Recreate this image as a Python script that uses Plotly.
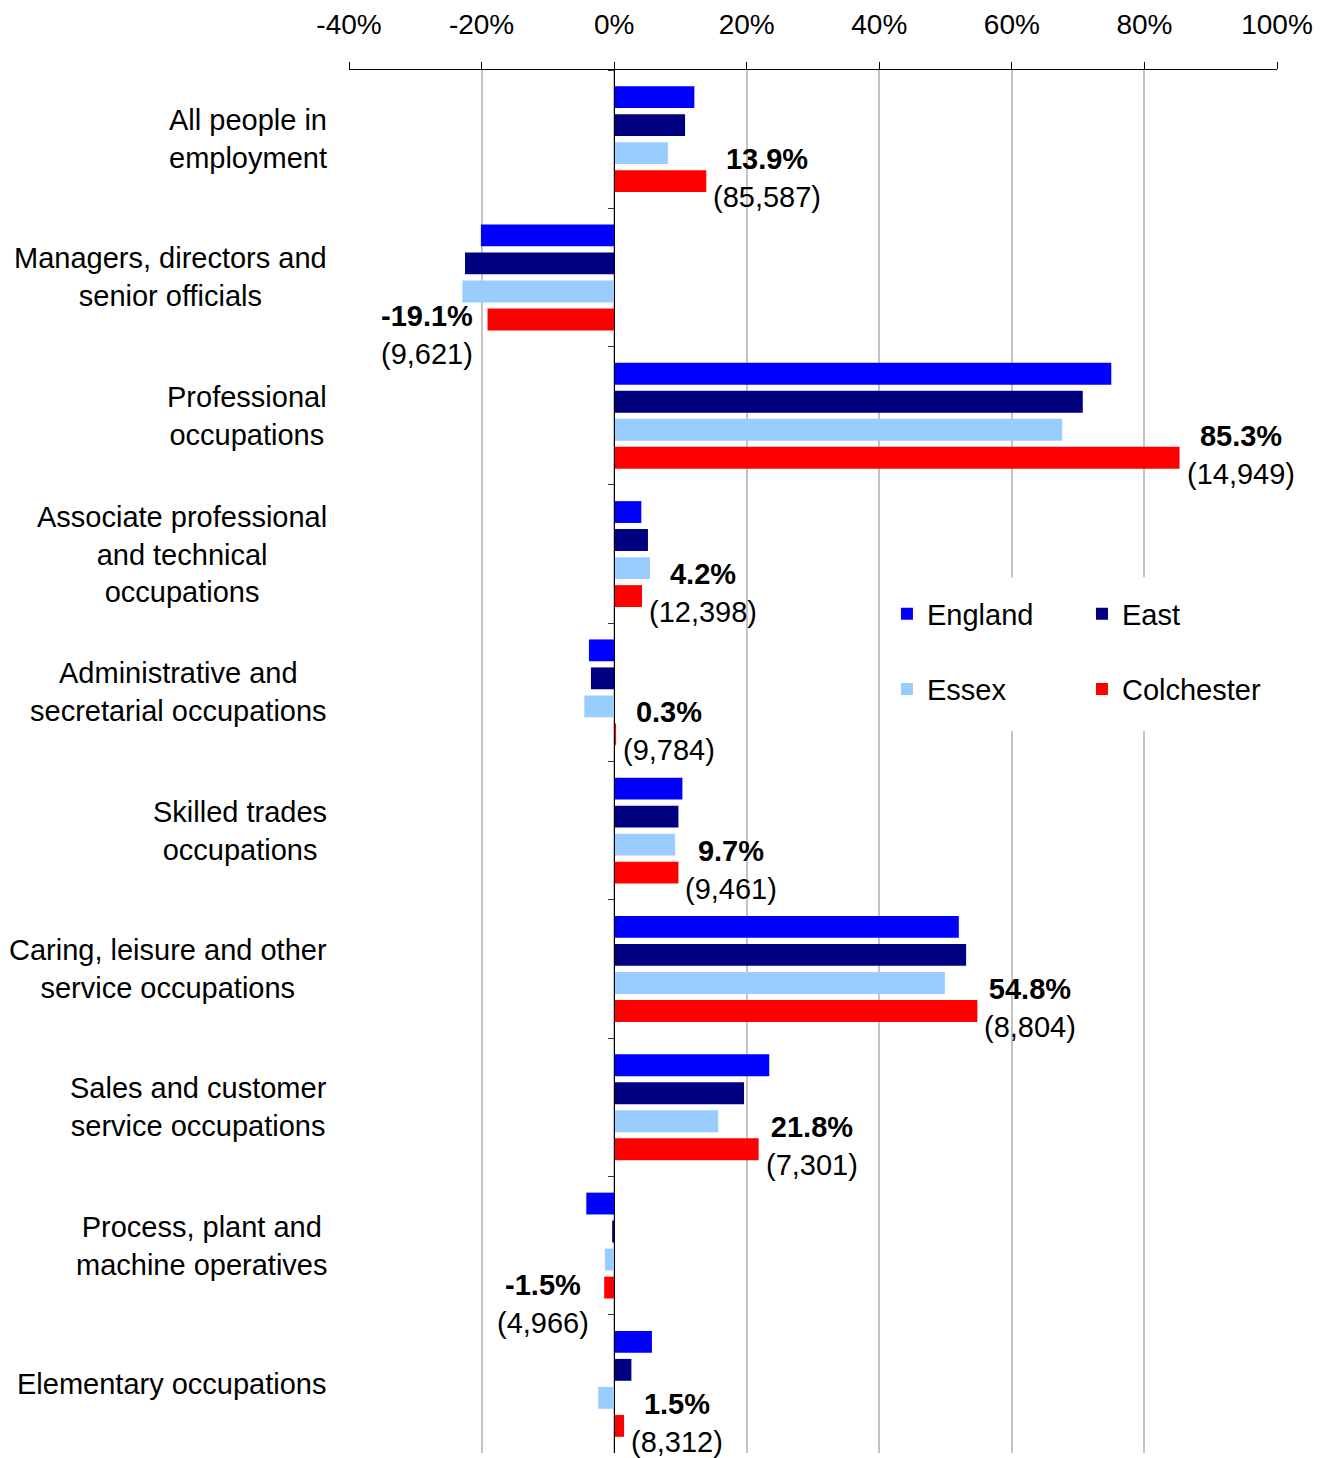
import plotly.graph_objects as go

# ---------------- data ----------------
categories = [
    "All people in employment",
    "Managers, directors and senior officials",
    "Professional occupations",
    "Associate professional and technical occupations",
    "Administrative and secretarial occupations",
    "Skilled trades occupations",
    "Caring, leisure and other service occupations",
    "Sales and customer service occupations",
    "Process, plant and machine operatives",
    "Elementary occupations",
]
category_labels = [
    "All people in<br>employment",
    "Managers, directors and<br>senior officials",
    "Professional<br>occupations",
    "Associate professional<br>and technical<br>occupations",
    "Administrative and<br>secretarial occupations",
    "Skilled trades<br>occupations",
    "Caring, leisure and other<br>service occupations",
    "Sales and customer<br>service occupations",
    "Process, plant and<br>machine operatives",
    "Elementary occupations",
]
england = [12.1, -20.1, 75.0, 4.1, -3.8, 10.3, 52.0, 23.4, -4.2, 5.7]
east = [10.7, -22.5, 70.7, 5.1, -3.5, 9.7, 53.1, 19.6, -0.3, 2.6]
essex = [8.1, -22.9, 67.6, 5.4, -4.5, 9.2, 49.9, 15.7, -1.4, -2.4]
colchester = [13.9, -19.1, 85.3, 4.2, 0.3, 9.7, 54.8, 21.8, -1.5, 1.5]
colchester_counts = [85587, 9621, 14949, 12398, 9784, 9461, 8804, 7301, 4966, 8312]

x_tickvals = [-40, -20, 0, 20, 40, 60, 80, 100]
x_ticktext = ["-40%", "-20%", "0%", "20%", "40%", "60%", "80%", "100%"]

series = [
    ("England", england, "#0000FF", "legend"),
    ("East", east, "#000080", "legend"),
    ("Essex", essex, "#99CCFF", "legend2"),
    ("Colchester", colchester, "#FF0000", "legend2"),
]

FONT = "Liberation Sans, Arial, sans-serif"
BARGAP = 0.19
BARGROUPGAP = 0.22

fig = go.Figure()
for name, vals, color, lg in series:
    fig.add_trace(
        go.Bar(
            name=name,
            y=categories,
            x=vals,
            orientation="h",
            marker=dict(color=color, line=dict(width=0)),
            legend=lg,
            hoverinfo="skip",
        )
    )

# category labels (centered multi-line blocks, right aligned to plot edge)
for cat, lab in zip(categories, category_labels):
    fig.add_annotation(
        x=0, xref="paper", xanchor="right", xshift=-20,
        y=cat, yref="y", yanchor="middle",
        text=lab, align="center", showarrow=False,
        font=dict(family=FONT, size=29, color="black"),
    )

# Colchester value labels, placed at the end of the Colchester bar
n_series = len(series)
col_offset = (n_series - 1) / 2 * (1 - BARGAP) / n_series  # centre of last bar in group
for i, (v, n) in enumerate(zip(colchester, colchester_counts)):
    neg = v < 0
    fig.add_annotation(
        x=v, xref="x",
        y=i + col_offset, yref="y", yanchor="middle",
        xanchor="right" if neg else "left",
        xshift=-13 if neg else 5,
        yshift=-16 if neg else 3,
        text=f"<b>{v:.1f}%</b><br>({n:,})",
        align="center", showarrow=False,
        font=dict(family=FONT, size=29, color="black"),
    )

# white box behind the legend (hides gridlines there)
fig.add_shape(
    type="rect", xref="paper", yref="paper",
    x0=0.575, x1=0.996, y0=0.522, y1=0.633,
    fillcolor="white", line=dict(width=0), layer="above",
)

fig.update_layout(
    width=1330,
    height=1458,
    margin=dict(l=349, r=53, t=70, b=5, autoexpand=False),
    paper_bgcolor="white",
    plot_bgcolor="white",
    barmode="group",
    bargap=BARGAP,
    bargroupgap=BARGROUPGAP,
    font=dict(family=FONT, size=28, color="black"),
    xaxis=dict(
        side="top",
        range=[-40, 100],
        tickvals=x_tickvals,
        ticktext=x_ticktext,
        ticks="outside",
        ticklen=7,
        tickcolor="black",
        showline=True,
        linecolor="black",
        linewidth=1,
        showgrid=True,
        gridcolor="#C4C4C4",
        gridwidth=2,
        zeroline=False,
        ticklabelstandoff=17,
        tickfont=dict(family=FONT, size=28, color="black"),
        fixedrange=True,
    ),
    yaxis=dict(
        type="category",
        categoryorder="array",
        categoryarray=categories,
        range=[len(categories) - 0.5, -0.5],
        autorange=False,
        anchor="free",
        position=40 / 140,
        showticklabels=False,
        ticks="outside",
        tickson="boundaries",
        ticklen=6,
        tickcolor="#333333",
        showline=True,
        linecolor="black",
        linewidth=1,
        showgrid=False,
        zeroline=False,
        fixedrange=True,
    ),
    legend=dict(
        orientation="h",
        x=0.5797, xanchor="left",
        y=0.6067, yanchor="middle",
        bgcolor="white",
        borderwidth=0,
        entrywidth=150,
        entrywidthmode="pixels",
        font=dict(family=FONT, size=29, color="black"),
        traceorder="normal",
    ),
    legend2=dict(
        orientation="h",
        x=0.5797, xanchor="left",
        y=0.5524, yanchor="middle",
        bgcolor="white",
        borderwidth=0,
        entrywidth=150,
        entrywidthmode="pixels",
        font=dict(family=FONT, size=29, color="black"),
        traceorder="normal",
    ),
    showlegend=True,
)

fig.write_html(
    "out.html",
    config={"displayModeBar": False},
    post_script="document.body.style.margin='0';document.body.style.padding='0';",
)
